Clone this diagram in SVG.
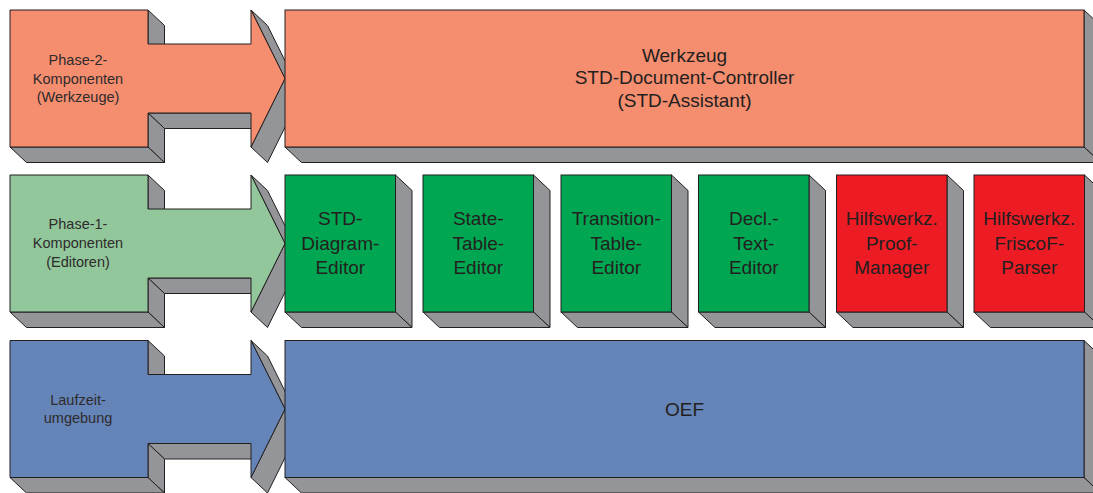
<svg xmlns="http://www.w3.org/2000/svg" width="1093" height="493" viewBox="0 0 1093 493">
<style>
.side{fill:#939598;stroke:#231F20;stroke-width:1;stroke-linejoin:round}
.front{stroke:#231F20;stroke-width:1;stroke-linejoin:miter}
.orange{fill:#F58D6F}
.lgreen{fill:#91C79B}
.green{fill:#00A651}
.red{fill:#ED1C24}
.blue{fill:#6584B8}
.t{font-family:"Liberation Sans",Arial,sans-serif;fill:#231F20;text-anchor:middle}
.s{font-size:14.5px;fill:#2e2b2c}
.l{font-size:19px}
</style>
<rect width="1093" height="493" fill="#ffffff"/>
<g id="connectors"/>

<g id="phase2-arrow" transform="translate(0,10)">
<polygon class="side" points="148,0 164.5,15.5 164.5,49.5 148,34"/>
<polygon class="side" points="148,103 251,103 267.5,118.5 164.5,118.5"/>
<polygon class="side" points="148,103 164.5,118.5 164.5,152.5 148,137"/>
<polygon class="side" points="10,137 148,137 164.5,152.5 26.5,152.5"/>
<polygon class="side" points="251,0 267.5,15.5 301.5,84 285,68.5"/>
<polygon class="side" points="285,68.5 301.5,84 267.5,152.5 251,137"/>
<polygon class="front orange" points="10,0 148,0 148,34 251,34 251,0 285,68.5 251,137 251,103 148,103 148,137 10,137"/>
<text class="t s" x="78" y="55">Phase-2-</text>
<text class="t s" x="78" y="73.5">Komponenten</text>
<text class="t s" x="78" y="92">(Werkzeuge)</text>
</g>

<g id="phase1-arrow" transform="translate(0,175)">
<polygon class="side" points="148,0 164.5,15.5 164.5,49.5 148,34"/>
<polygon class="side" points="148,103 251,103 267.5,118.5 164.5,118.5"/>
<polygon class="side" points="148,103 164.5,118.5 164.5,152.5 148,137"/>
<polygon class="side" points="10,137 148,137 164.5,152.5 26.5,152.5"/>
<polygon class="side" points="251,0 267.5,15.5 301.5,84 285,68.5"/>
<polygon class="side" points="285,68.5 301.5,84 267.5,152.5 251,137"/>
<polygon class="front lgreen" points="10,0 148,0 148,34 251,34 251,0 285,68.5 251,137 251,103 148,103 148,137 10,137"/>
<text class="t s" x="78" y="54">Phase-1-</text>
<text class="t s" x="78" y="73">Komponenten</text>
<text class="t s" x="78" y="91.5">(Editoren)</text>
</g>

<g id="laufzeit-arrow" transform="translate(0,340.5)">
<polygon class="side" points="148,0 164.5,15.5 164.5,49.5 148,34"/>
<polygon class="side" points="148,103 251,103 267.5,118.5 164.5,118.5"/>
<polygon class="side" points="148,103 164.5,118.5 164.5,152.5 148,137"/>
<polygon class="side" points="10,137 148,137 164.5,152.5 26.5,152.5"/>
<polygon class="side" points="251,0 267.5,15.5 301.5,84 285,68.5"/>
<polygon class="side" points="285,68.5 301.5,84 267.5,152.5 251,137"/>
<polygon class="front blue" points="10,0 148,0 148,34 251,34 251,0 285,68.5 251,137 251,103 148,103 148,137 10,137"/>
<text class="t s" x="78" y="64.5">Laufzeit-</text>
<text class="t s" x="78" y="82">umgebung</text>
</g>

<g id="werkzeug" transform="translate(285,10)">
<polygon class="side" points="799,0 815.5,15.5 815.5,152.5 799,137"/>
<polygon class="side" points="0,137 799,137 815.5,152.5 16.5,152.5"/>
<rect class="front orange" x="0" y="0" width="799" height="137"/>
<text class="t l" x="399.5" y="51.5">Werkzeug</text>
<text class="t l" x="399.5" y="74">STD-Document-Controller</text>
<text class="t l" x="399.5" y="96.5">(STD-Assistant)</text>
</g>

<g id="std-diagram-editor" transform="translate(285,175)">
<polygon class="side" points="110.5,0 127,15.5 127,152.5 110.5,137"/>
<polygon class="side" points="0,137 110.5,137 127,152.5 16.5,152.5"/>
<rect class="front green" x="0" y="0" width="110.5" height="137"/>
<text class="t l" x="55.25" y="50">STD-</text>
<text class="t l" x="55.25" y="74.5">Diagram-</text>
<text class="t l" x="55.25" y="98.5">Editor</text>
</g>

<g id="state-table-editor" transform="translate(423,175)">
<polygon class="side" points="110.5,0 127,15.5 127,152.5 110.5,137"/>
<polygon class="side" points="0,137 110.5,137 127,152.5 16.5,152.5"/>
<rect class="front green" x="0" y="0" width="110.5" height="137"/>
<text class="t l" x="55.25" y="50">State-</text>
<text class="t l" x="55.25" y="74.5">Table-</text>
<text class="t l" x="55.25" y="98.5">Editor</text>
</g>

<g id="transition-table-editor" transform="translate(561,175)">
<polygon class="side" points="110.5,0 127,15.5 127,152.5 110.5,137"/>
<polygon class="side" points="0,137 110.5,137 127,152.5 16.5,152.5"/>
<rect class="front green" x="0" y="0" width="110.5" height="137"/>
<text class="t l" x="55.25" y="50">Transition-</text>
<text class="t l" x="55.25" y="74.5">Table-</text>
<text class="t l" x="55.25" y="98.5">Editor</text>
</g>

<g id="decl-text-editor" transform="translate(698.5,175)">
<polygon class="side" points="110.5,0 127,15.5 127,152.5 110.5,137"/>
<polygon class="side" points="0,137 110.5,137 127,152.5 16.5,152.5"/>
<rect class="front green" x="0" y="0" width="110.5" height="137"/>
<text class="t l" x="55.25" y="50">Decl.-</text>
<text class="t l" x="55.25" y="74.5">Text-</text>
<text class="t l" x="55.25" y="98.5">Editor</text>
</g>

<g id="proof-manager" transform="translate(836.5,175)">
<polygon class="side" points="110.5,0 127,15.5 127,152.5 110.5,137"/>
<polygon class="side" points="0,137 110.5,137 127,152.5 16.5,152.5"/>
<rect class="front red" x="0" y="0" width="110.5" height="137"/>
<text class="t l" x="55.25" y="50">Hilfswerkz.</text>
<text class="t l" x="55.25" y="74.5">Proof-</text>
<text class="t l" x="55.25" y="98.5">Manager</text>
</g>

<g id="friscof-parser" transform="translate(974,175)">
<polygon class="side" points="110.5,0 127,15.5 127,152.5 110.5,137"/>
<polygon class="side" points="0,137 110.5,137 127,152.5 16.5,152.5"/>
<rect class="front red" x="0" y="0" width="110.5" height="137"/>
<text class="t l" x="55.25" y="50">Hilfswerkz.</text>
<text class="t l" x="55.25" y="74.5">FriscoF-</text>
<text class="t l" x="55.25" y="98.5">Parser</text>
</g>

<g id="oef" transform="translate(285,340.5)">
<polygon class="side" points="799,0 815.5,15.5 815.5,152.5 799,137"/>
<polygon class="side" points="0,137 799,137 815.5,152.5 16.5,152.5"/>
<rect class="front blue" x="0" y="0" width="799" height="137"/>
<text class="t l" x="399.5" y="75.5">OEF</text>
</g>
</svg>
